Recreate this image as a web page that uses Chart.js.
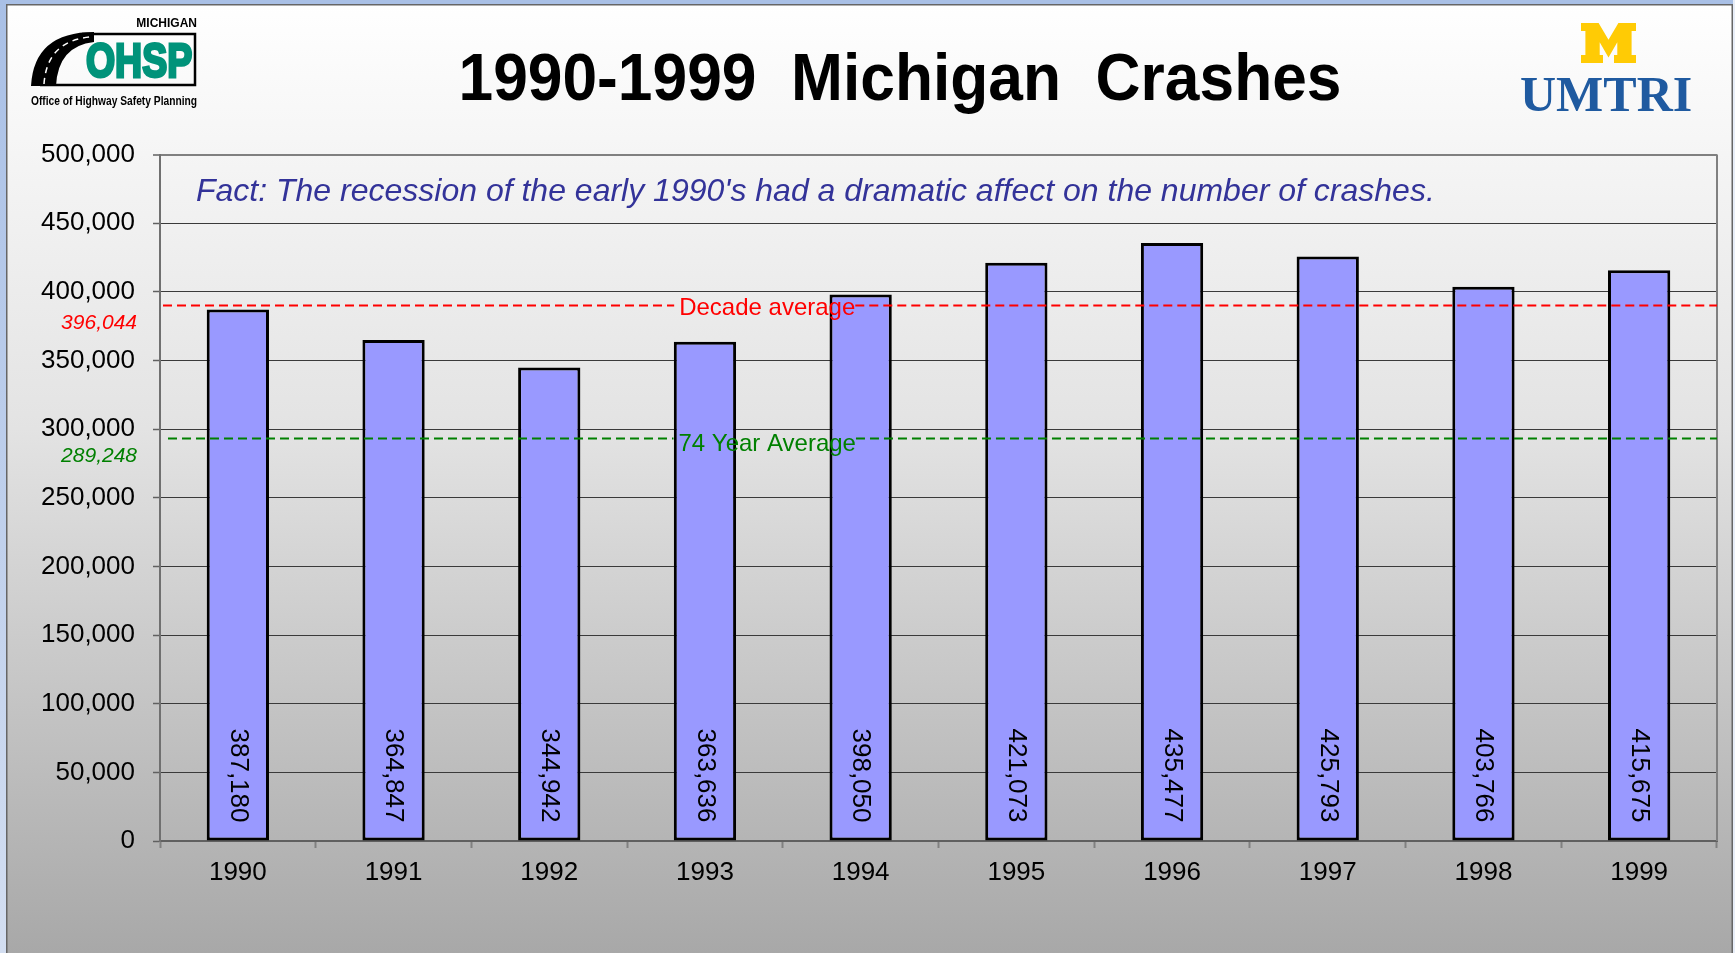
<!DOCTYPE html>
<html><head><meta charset="utf-8">
<script src="https://cdn.jsdelivr.net/npm/chart.js@4"></script>
<style>html,body{margin:0;padding:0;overflow:hidden;background:#fff}canvas{display:block}</style>
</head><body>
<canvas id="c" width="1735" height="953"></canvas>
<script>
const years = ['1990','1991','1992','1993','1994','1995','1996','1997','1998','1999'];
const crashes = [387180, 364847, 344942, 363636, 398050, 421073, 435477, 425793, 403766, 415675];
const yMin = 0, yMax = 500000, yStep = 50000;
const referenceValues = [390100, 293100];
const referenceNames = ['Decade average', '74 Year Average'];
const referenceValueLabels = ['396,044', '289,248'];
const chartTitle = '1990-1999  Michigan  Crashes';
const factText = "Fact: The recession of the early 1990's had a dramatic affect on the number of crashes.";

const FONT = '"Liberation Sans", Arial, sans-serif';
const refColors = ['#ff0000', '#008000'];

const backgroundPlugin = {
  id: 'bg',
  beforeDraw(chart) {
    const {ctx, width, height} = chart;
    ctx.save();
    const g = ctx.createLinearGradient(0, 0, 0, height);
    g.addColorStop(0, '#ffffff');
    g.addColorStop(0.45, '#e3e3e3');
    g.addColorStop(1, '#a8a8a8');
    ctx.fillStyle = g;
    ctx.fillRect(0, 0, width, height);
    const bg = ctx.createLinearGradient(0, 0, 0, height);
    bg.addColorStop(0, '#a9c0e6'); bg.addColorStop(1, '#d3def1');
    ctx.fillStyle = bg;
    ctx.fillRect(0, 0, 6, height);
    ctx.fillStyle = '#a9c0e6';
    ctx.fillRect(0, 0, width, 4);
    ctx.fillStyle = '#e8eef8';
    ctx.fillRect(width - 2, 0, 2, height);
    ctx.strokeStyle = '#666666';
    ctx.lineWidth = 1.5;
    ctx.beginPath();
    ctx.moveTo(6.75, height); ctx.lineTo(6.75, 4.75); ctx.lineTo(width - 2.75, 4.75); ctx.lineTo(width - 2.75, height);
    ctx.stroke();

    // Title
    ctx.fillStyle = '#000';
    ctx.font = `bold 67px ${FONT}`;
    ctx.textAlign = 'center';
    ctx.textBaseline = 'alphabetic';
    ctx.fillText(chartTitle, 900, 100, 883);

    // Fact text
    ctx.fillStyle = '#333399';
    ctx.font = `italic 32px ${FONT}`;
    ctx.textAlign = 'left';
    ctx.fillText(factText, 196, 201);

    // OHSP logo
    ctx.fillStyle = '#000';
    ctx.font = `bold 12px ${FONT}`;
    ctx.textAlign = 'right';
    ctx.fillText('MICHIGAN', 197, 27, 62);
    ctx.strokeStyle = '#000';
    ctx.lineWidth = 2.5;
    ctx.beginPath();
    ctx.moveTo(82, 34); ctx.lineTo(195, 34); ctx.lineTo(195, 85); ctx.lineTo(40, 85);
    ctx.stroke();
    ctx.beginPath();
    ctx.moveTo(31, 86);
    ctx.quadraticCurveTo(34, 32, 94, 32);
    ctx.lineTo(94, 42);
    ctx.quadraticCurveTo(58, 46, 56, 86);
    ctx.closePath();
    ctx.fill();
    ctx.strokeStyle = '#fff';
    ctx.lineWidth = 1.5;
    ctx.setLineDash([6, 5]);
    ctx.beginPath();
    ctx.moveTo(44, 84); ctx.quadraticCurveTo(47, 41, 90, 37);
    ctx.stroke();
    ctx.setLineDash([]);
    ctx.save();
    ctx.translate(86, 77);
    ctx.scale(0.78, 1);
    ctx.font = `bold 48px ${FONT}`;
    ctx.textAlign = 'left';
    ctx.lineWidth = 3;
    ctx.strokeStyle = '#00937a';
    ctx.strokeText('OHSP', 0, 0);
    ctx.fillStyle = '#00937a';
    ctx.fillText('OHSP', 0, 0);
    ctx.restore();
    ctx.fillStyle = '#000';
    ctx.font = `bold 12px ${FONT}`;
    ctx.textAlign = 'left';
    ctx.fillText('Office of Highway Safety Planning', 31, 105, 166);

    // UMTRI logo: block M
    const mx = 1581, my = 23, mw = 55, mh = 40;
    const pts = [[0,0],[0.32,0],[0.5,0.42],[0.68,0],[1,0],[1,0.2],[0.92,0.2],[0.92,0.8],[1,0.8],[1,1],[0.6,1],[0.6,0.8],[0.66,0.8],[0.66,0.48],[0.5,0.86],[0.34,0.48],[0.34,0.8],[0.4,0.8],[0.4,1],[0,1],[0,0.8],[0.08,0.8],[0.08,0.2],[0,0.2]];
    ctx.fillStyle = '#ffcb05';
    ctx.beginPath();
    pts.forEach((p, i) => { const X = mx + p[0] * mw, Y = my + p[1] * mh; i ? ctx.lineTo(X, Y) : ctx.moveTo(X, Y); });
    ctx.closePath();
    ctx.fill();
    ctx.fillStyle = '#1f5aa0';
    ctx.font = 'bold 50px "Liberation Serif", "Times New Roman", serif';
    ctx.textAlign = 'left';
    ctx.fillText('UMTRI', 1520, 111, 177);
    ctx.restore();
  },
  afterDatasetsDraw(chart) {
    const {ctx, chartArea: a} = chart;
    const ys = chart.scales.y;
    ctx.save();
    // plot right border
    ctx.strokeStyle = '#808080';
    ctx.lineWidth = 2;
    ctx.beginPath();
    ctx.moveTo(a.right, a.top); ctx.lineTo(a.right, a.bottom);
    ctx.stroke();

    // bar value labels
    const meta = chart.getDatasetMeta(0);
    ctx.fillStyle = '#000';
    ctx.font = `26px ${FONT}`;
    meta.data.forEach((el, i) => {
      ctx.save();
      ctx.translate(el.x, el.base - 18);
      ctx.rotate(Math.PI / 2);
      ctx.textAlign = 'right';
      ctx.textBaseline = 'middle';
      ctx.fillText(crashes[i].toLocaleString('en-US'), 0, 0);
      ctx.restore();
    });

    // reference lines
    referenceValues.forEach((v, i) => {
      const py = ys.getPixelForValue(v);
      ctx.font = `24px ${FONT}`;
      const tw = ctx.measureText(referenceNames[i]).width;
      const cx = a.left + a.width * 0.39;
      const tl = cx - tw / 2, tr = cx + tw / 2;
      ctx.strokeStyle = refColors[i];
      ctx.lineWidth = 2;
      ctx.setLineDash([9, 5]);
      ctx.beginPath();
      ctx.moveTo(a.left + 3 + i * 5, py); ctx.lineTo(tl - 5, py);
      ctx.moveTo(tr, py); ctx.lineTo(a.right, py);
      ctx.stroke();
      ctx.setLineDash([]);
      ctx.fillStyle = refColors[i];
      ctx.textAlign = 'center';
      ctx.textBaseline = 'middle';
      ctx.fillText(referenceNames[i], cx, py + 3 + i * 3);
      ctx.font = `italic 21px ${FONT}`;
      ctx.textAlign = 'right';
      ctx.fillText(referenceValueLabels[i], a.left - 23, py + 18);
    });
    ctx.restore();
  }
};

new Chart(document.getElementById('c'), {
  type: 'bar',
  data: {
    labels: years,
    datasets: [{
      data: crashes,
      backgroundColor: '#9999ff',
      borderColor: '#000000',
      borderWidth: 3,
      borderSkipped: false,
      categoryPercentage: 1.0,
      barPercentage: 0.40
    }]
  },
  options: {
    responsive: false,
    animation: false,
    layout: {padding: {left: 0, top: 154.5, right: 18, bottom: 0}},
    plugins: {legend: {display: false}, tooltip: {enabled: false}, title: {display: false}},
    scales: {
      x: {
        afterFit(s) { s.height = 112; },
        grid: {display: true, drawOnChartArea: false, drawTicks: true, tickLength: 7, tickColor: '#808080', tickWidth: 2, offset: true},
        border: {display: true, color: '#606060', width: 2},
        ticks: {color: '#000', font: {family: FONT, size: 26}, padding: 9, maxRotation: 0}
      },
      y: {
        min: yMin, max: yMax,
        afterFit(s) { s.width = 160; },
        grid: {
          color: (c) => (c.tick && c.tick.value === yMax) ? '#808080' : '#3a3a3a',
          lineWidth: (c) => (c.tick && c.tick.value === yMax) ? 2 : 1,
          tickLength: 7, tickColor: '#606060', tickWidth: 1.5
        },
        border: {display: true, color: '#707070', width: 2},
        ticks: {
          stepSize: yStep, color: '#000', font: {family: FONT, size: 26}, padding: 18,
          callback: (v) => Number(v).toLocaleString('en-US')
        }
      }
    }
  },
  plugins: [backgroundPlugin]
});
</script>
</body></html>
